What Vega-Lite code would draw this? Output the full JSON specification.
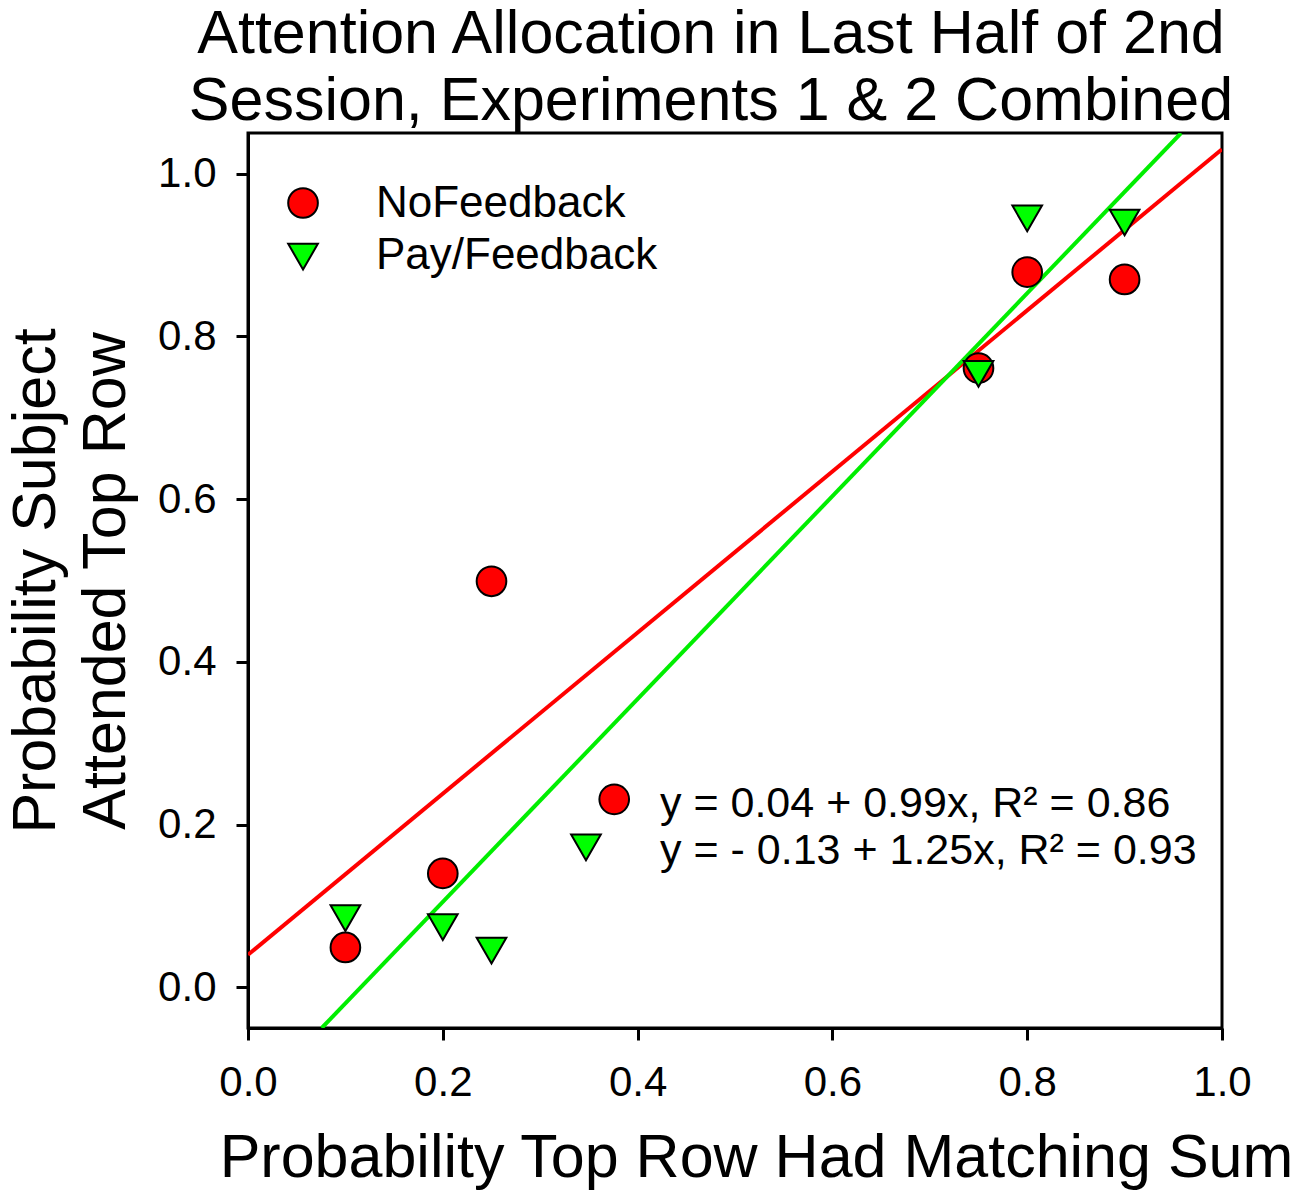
{
  "$schema": "https://vega.github.io/schema/vega-lite/v6.json",
  "width": 974,
  "height": 895,
  "autosize": "none",
  "padding": {"left": 248, "top": 133, "right": 78, "bottom": 175},
  "background": "white",
  "config": {
    "font": "Liberation Sans",
    "view": {"stroke": "black", "strokeWidth": 3},
    "axis": {
      "grid": false,
      "domainColor": "black", "domainWidth": 3,
      "tickColor": "black", "tickWidth": 3, "tickSize": 12,
      "labelFontSize": 42, "labelColor": "black",
      "labelFlush": false, "labelOverlap": false,
      "titleFontSize": 61, "titleFontWeight": "normal", "titleColor": "black"
    }
  },
  "title": {
    "text": ["Attention Allocation in Last Half of 2nd", "Session, Experiments 1 & 2 Combined"],
    "fontSize": 61, "fontWeight": "normal", "lineHeight": 67,
    "color": "black", "anchor": "middle", "dx": -24, "offset": 0
  },
  "datasets": {
    "obs": [
      {"group": "NoFeedback", "x": 0.1, "y": 0.049},
      {"group": "NoFeedback", "x": 0.2, "y": 0.14},
      {"group": "NoFeedback", "x": 0.25, "y": 0.499},
      {"group": "NoFeedback", "x": 0.75, "y": 0.761},
      {"group": "NoFeedback", "x": 0.8, "y": 0.879},
      {"group": "NoFeedback", "x": 0.9, "y": 0.87},
      {"group": "Pay/Feedback", "x": 0.1, "y": 0.085},
      {"group": "Pay/Feedback", "x": 0.2, "y": 0.074},
      {"group": "Pay/Feedback", "x": 0.25, "y": 0.045},
      {"group": "Pay/Feedback", "x": 0.75, "y": 0.754},
      {"group": "Pay/Feedback", "x": 0.8, "y": 0.945},
      {"group": "Pay/Feedback", "x": 0.9, "y": 0.94}
    ],
    "fits": [
      {"group": "NoFeedback", "x": 0, "y": 0.04},
      {"group": "NoFeedback", "x": 1, "y": 1.03},
      {"group": "Pay/Feedback", "x": 0.0757, "y": -0.05},
      {"group": "Pay/Feedback", "x": 0.958, "y": 1.05}
    ],
    "key": [
      {"kind": "legend", "group": "NoFeedback", "x": 0.0565, "y": 0.964, "tx": 0.1314, "ty": 0.963, "label": "NoFeedback"},
      {"kind": "legend", "group": "Pay/Feedback", "x": 0.0565, "y": 0.898, "tx": 0.1314, "ty": 0.899, "label": "Pay/Feedback"},
      {"kind": "fit", "group": "NoFeedback", "x": 0.376, "y": 0.231, "tx": 0.423, "ty": 0.225, "label": "y = 0.04 + 0.99x, R² = 0.86"},
      {"kind": "fit", "group": "Pay/Feedback", "x": 0.347, "y": 0.172, "tx": 0.423, "ty": 0.167, "label": "y = - 0.13 + 1.25x, R² = 0.93"}
    ]
  },
  "encoding": {
    "x": {
      "field": "x", "type": "quantitative",
      "scale": {"domain": [0, 1], "nice": false, "zero": false},
      "axis": {
        "values": [0, 0.2, 0.4, 0.6, 0.8, 1], "format": ".1f",
        "labelPadding": 22,
        "title": "Probability Top Row Had Matching Sum",
        "titlePadding": 25, "titleX": 508
      }
    },
    "y": {
      "field": "y", "type": "quantitative",
      "scale": {"domain": [-0.05, 1.05], "nice": false, "zero": false},
      "axis": {
        "values": [0, 0.2, 0.4, 0.6, 0.8, 1], "format": ".1f",
        "labelPadding": 20,
        "title": ["Probability Subject", "Attended Top Row"],
        "titlePadding": 20, "titleLineHeight": 70
      }
    }
  },
  "layer": [
    {
      "data": {"name": "fits"},
      "mark": {"type": "line", "strokeWidth": 4, "clip": true},
      "encoding": {
        "stroke": {
          "field": "group", "type": "nominal",
          "scale": {"domain": ["NoFeedback", "Pay/Feedback"], "range": ["#ff0000", "#00ee00"]},
          "legend": null
        }
      }
    },
    {
      "data": {"name": "obs"},
      "mark": {"type": "point", "filled": true, "stroke": "black", "strokeWidth": 2, "opacity": 1, "size": 880},
      "encoding": {
        "color": {
          "field": "group", "type": "nominal",
          "scale": {"domain": ["NoFeedback", "Pay/Feedback"], "range": ["#ff0000", "#00ff00"]},
          "legend": null
        },
        "shape": {
          "field": "group", "type": "nominal",
          "scale": {"domain": ["NoFeedback", "Pay/Feedback"], "range": ["circle", "triangle-down"]},
          "legend": null
        }
      }
    },
    {
      "data": {"name": "key"},
      "mark": {"type": "point", "filled": true, "stroke": "black", "strokeWidth": 2, "opacity": 1, "size": 880},
      "encoding": {
        "color": {"field": "group", "type": "nominal", "legend": null},
        "shape": {"field": "group", "type": "nominal", "legend": null}
      }
    },
    {
      "data": {"name": "key"},
      "transform": [{"filter": "datum.kind === 'legend'"}],
      "mark": {"type": "text", "align": "left", "baseline": "middle", "fontSize": 44, "color": "black"},
      "encoding": {
        "x": {"field": "tx", "type": "quantitative"},
        "y": {"field": "ty", "type": "quantitative"},
        "text": {"field": "label"}
      }
    },
    {
      "data": {"name": "key"},
      "transform": [{"filter": "datum.kind === 'fit'"}],
      "mark": {"type": "text", "align": "left", "baseline": "middle", "fontSize": 43, "color": "black"},
      "encoding": {
        "x": {"field": "tx", "type": "quantitative"},
        "y": {"field": "ty", "type": "quantitative"},
        "text": {"field": "label"}
      }
    }
  ]
}
